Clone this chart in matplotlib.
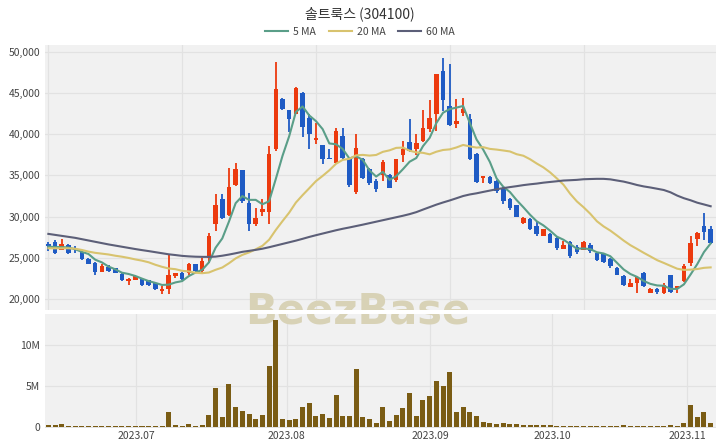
import numpy as np
import pandas as pd
import matplotlib
matplotlib.use("Agg")
import matplotlib.pyplot as plt
from matplotlib.lines import Line2D

plt.rcParams['font.family'] = ['Noto Sans CJK KR', 'DejaVu Sans']

title = "솔트룩스 (304100)"

opens = [26700, 26900, 25900, 26600, 26200, 25700, 24800, 24400, 23300, 23900,
         23700, 23050, 22150, 22250, 22450, 22250, 21950, 20950, 21150, 22750,
         23150, 23150, 24200, 23350, 25000, 29050, 32100, 30250, 33850, 35600,
         31700, 29050, 30550, 30550, 38150, 44250, 42900, 42400, 45050, 41950,
         39250, 38700, 37150, 36450, 39800, 36950, 33000, 36950, 35750, 34300,
         35100, 35100, 34500, 37450, 39050, 38150, 39200, 40600, 42400, 47650,
         43450, 41200, 42550, 41900, 37550, 34650, 34800, 34300, 33500, 32150,
         31350, 29200, 29700, 28850, 27700, 27850, 27350, 26100, 26950, 26350,
         26000, 26600, 25600, 25400, 24800, 23800, 22750, 21450, 21950, 23150,
         20750, 21150, 20750, 22850, 21200, 22150, 24400, 27300, 28850, 28500]
highs = [26950, 27200, 27300, 26700, 26400, 25800, 25000, 24450, 24200, 24100,
         23750, 23150, 22500, 22950, 22500, 22300, 22000, 21550, 25400, 23150,
         23250, 24400, 24250, 25000, 27950, 32700, 32800, 35950, 36450, 35650,
         32900, 31050, 32100, 38550, 48800, 44450, 42950, 45700, 45150, 42400,
         41400, 38700, 38250, 40700, 40700, 37150, 40050, 37150, 35950, 34600,
         36850, 35200, 37050, 39200, 41900, 40050, 42950, 44150, 47300, 49300,
         48500, 44300, 44450, 42400, 37750, 34900, 34950, 34500, 33550, 32200,
         31400, 30000, 29850, 29450, 28550, 27950, 27550, 27000, 27000, 26500,
         27000, 26750, 25700, 25500, 25000, 23850, 22950, 22450, 22700, 23250,
         21350, 21350, 21950, 22950, 21550, 24200, 27700, 28100, 30400, 28900]
lows = [25800, 25400, 25900, 25500, 25600, 24700, 24300, 22950, 23300, 23300,
        23100, 22200, 21750, 22250, 21550, 21550, 21050, 20550, 20550, 22550,
        22350, 22950, 23300, 23150, 24400, 28250, 29650, 30050, 33700, 31700,
        28250, 28850, 30050, 29050, 37950, 42950, 40300, 42400, 39700, 38150,
        38850, 36350, 36950, 36350, 36950, 33600, 32700, 34600, 33800, 33000,
        34300, 33500, 34200, 36650, 37850, 37450, 39100, 40300, 40350, 42800,
        40950, 40800, 42200, 36850, 34050, 34050, 34000, 32850, 31550, 30800,
        29950, 29100, 28400, 27700, 27600, 26750, 26000, 26100, 25000, 25500,
        25950, 25600, 24600, 24400, 23750, 22850, 21600, 21450, 20750, 21450,
        20750, 20550, 20650, 20750, 20750, 22050, 24050, 26400, 27200, 26700]
closes = [26400, 25600, 26700, 25600, 25900, 24800, 24300, 23250, 23950, 23350,
          23150, 22250, 22450, 22750, 21750, 21650, 21150, 21200, 22950, 23100,
          22450, 24200, 23350, 24600, 27600, 31350, 29850, 33600, 35750, 31900,
          29050, 29850, 30950, 37550, 45450, 43050, 41800, 45650, 40900, 40000,
          39600, 36950, 36950, 40400, 37150, 33800, 38350, 34700, 34050, 33400,
          36650, 33500, 36950, 38250, 37950, 38900, 40700, 42000, 47250, 44200,
          41100, 41600, 43000, 36950, 34200, 34900, 34100, 33050, 31850, 31000,
          30000, 29800, 28500, 27850, 28500, 26800, 26200, 26600, 25200, 25700,
          26950, 25800, 24700, 24450, 24050, 22950, 21750, 21950, 22700, 21550,
          21200, 20800, 21750, 20800, 21550, 23950, 26800, 28050, 28100, 26800]
volumes_m = [0.2, 0.16, 0.4, 0.12, 0.08, 0.08, 0.04, 0.08, 0.04, 0.04,
             0.04, 0.08, 0.04, 0.04, 0.04, 0.04, 0.04, 0.04, 1.84, 0.16,
             0.12, 0.28, 0.12, 0.25, 1.47, 4.7, 1.22, 5.2, 2.45, 1.96,
             1.6, 0.94, 1.43, 7.47, 13.06, 0.94, 0.86, 0.94, 2.4, 2.9,
             1.3, 1.55, 1.06, 3.9, 1.3, 1.3, 7.1, 1.22, 0.9, 0.49,
             2.37, 0.65, 1.47, 2.24, 4.16, 1.35, 3.27, 3.71, 5.55, 4.98,
             6.65, 1.76, 2.45, 1.76, 1.3, 0.61, 0.41, 0.33, 0.45, 0.29,
             0.37, 0.25, 0.2, 0.2, 0.16, 0.16, 0.12, 0.12, 0.12, 0.08,
             0.12, 0.08, 0.08, 0.08, 0.12, 0.08, 0.16, 0.08, 0.12, 0.08,
             0.08, 0.04, 0.04, 0.16, 0.04, 0.45, 2.7, 1.18, 1.76, 0.41]

# moving-average values before enough history is available
ma5_head = [26350, 26300, 26300, 26250]
ma20_head = [26150, 26150, 26150, 26150, 26100, 25950, 25750, 25600, 25500, 25400,
             25250, 25130, 24980, 24800, 24650, 24450, 24150, 23900, 23700]
ma60_head = [27900, 27780, 27660, 27540, 27420, 27260, 27100, 26940, 26780, 26620,
             26480, 26340, 26200, 26060, 25930, 25810, 25680, 25550, 25420, 25330,
             25230, 25170, 25130, 25110, 25110, 25140, 25250, 25390, 25550, 25720,
             25840, 25960, 26100, 26280, 26480, 26680, 26880, 27080, 27300, 27530,
             27740, 27940, 28140, 28340, 28520, 28680, 28850, 29020, 29200, 29380,
             29560, 29740, 29920, 30100, 30300, 30540, 30850, 31150, 31450]

month_labels = ["2023.07", "2023.08", "2023.09", "2023.10", "2023.11"]
month_pos = [13.1, 35.6, 57.1, 75.3, 95.5]

c = pd.Series(closes, dtype=float)
def ma(n, head):
    m = c.rolling(n).mean().to_numpy()
    m[:len(head)] = head
    return m
ma5, ma20, ma60 = ma(5, ma5_head), ma(20, ma20_head), ma(60, ma60_head)

o = np.array(opens, float); h = np.array(highs, float)
l = np.array(lows, float); cl = np.array(closes, float)
x = np.arange(len(closes))
up = cl >= o
RED, BLUE = "#ec3a0e", "#1f5bc4"
cols = np.where(up, RED, BLUE)

fig = plt.figure(figsize=(7.2, 4.48), dpi=100)
BG, GRID = "#f1f1f1", "#e2e2e2"
ax1 = fig.add_axes([45/720, 1-310/448, 671/720, 265/448])
ax2 = fig.add_axes([45/720, 1-428/448, 671/720, 114/448])
for ax in (ax1, ax2):
    ax.set_facecolor(BG)
    for s in ax.spines.values():
        s.set_visible(False)
    ax.tick_params(length=0, labelsize=7.5, labelcolor="#444444")
    ax.set_xlim(-0.5, 99.8)
    ax.grid(True, color=GRID, linewidth=0.9)
    ax.set_axisbelow(True)

ax1.vlines(x, l, h, colors=cols, linewidth=1.3, zorder=3)
body_h = np.maximum(np.abs(cl - o), 60)
ax1.bar(x, body_h, bottom=np.minimum(o, cl), width=0.68, color=cols, zorder=4)
ax1.plot(x, ma5, color="#5a9e88", lw=1.5, zorder=5)
ax1.plot(x, ma20, color="#d8c36e", lw=1.5, zorder=5)
ax1.plot(x, ma60, color="#5c5f78", lw=1.5, zorder=5)
ax1.set_ylim(18660, 50830)
ax1.set_yticks(np.arange(20000, 50001, 5000))
ax1.yaxis.set_major_formatter(matplotlib.ticker.FuncFormatter(lambda v, p: f"{v:,.0f}"))
ax1.set_xticks([0, 20, 40, 60, 80])
ax1.set_xticklabels([])

ax2.bar(x, np.array(volumes_m) * 1e6, width=0.75, color="#7a5c14", zorder=3)
ax2.set_ylim(-0.15e6, 13.8e6)
ax2.set_yticks([0, 5e6, 10e6])
ax2.set_yticklabels(["0", "5M", "10M"])
ax2.set_xticks(month_pos)
ax2.set_xticklabels(month_labels)
ax2.tick_params(axis="x", pad=2)

for ax in (ax1, ax2):
    ax.text(358/720, 1-311/448, "BeezBase", transform=fig.transFigure,
            ha="center", va="center", fontsize=30, fontweight="bold",
            family="DejaVu Sans", color="#d8d2b6", clip_on=True, zorder=2)

fig.text(0.5, 1-14/448, title, ha="center", va="center", fontsize=10, color="#333333")
handles = [Line2D([], [], color="#5a9e88", lw=1.5),
           Line2D([], [], color="#d8c36e", lw=1.5),
           Line2D([], [], color="#5c5f78", lw=1.5)]
fig.legend(handles, ["5 MA", "20 MA", "60 MA"], loc="center", ncol=3,
           bbox_to_anchor=(0.5, 1-32/448), frameon=False, fontsize=7.5,
           handlelength=2.2, columnspacing=1.2, handletextpad=0.5,
           labelcolor="#444444")

fig.savefig("out.png", dpi=100)
